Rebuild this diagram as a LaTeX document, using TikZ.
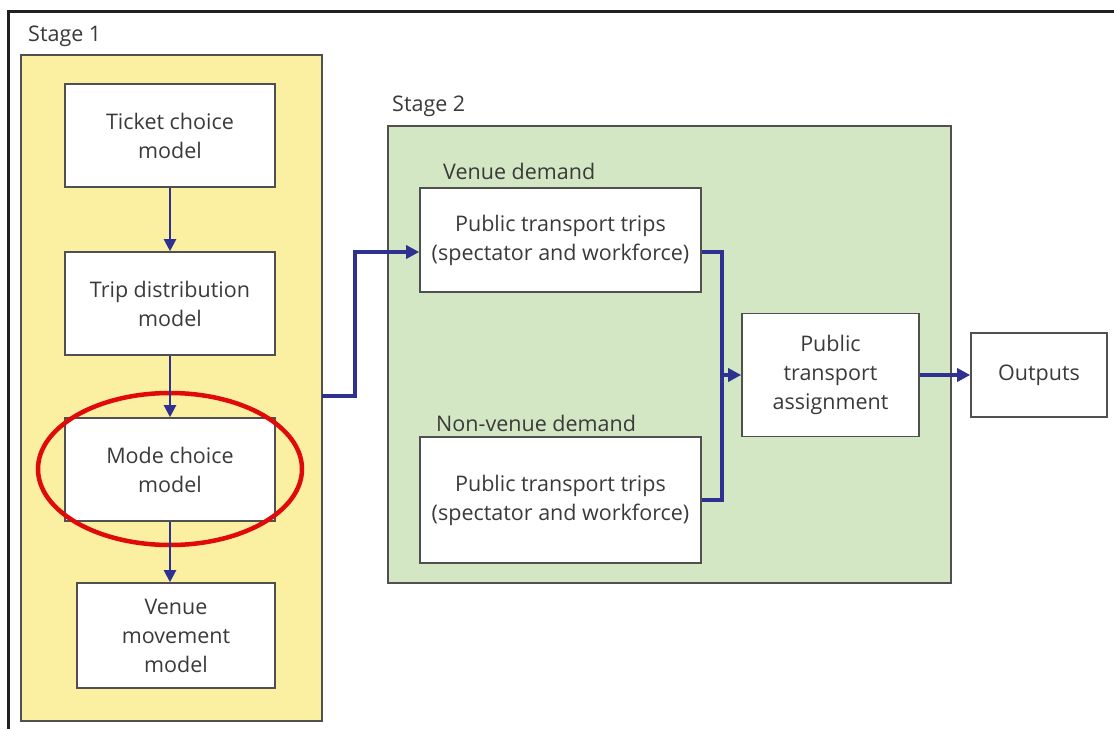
\documentclass[tikz,border=0pt]{standalone}
\usepackage{fontspec}
\setmainfont{Open Sans}
\usetikzlibrary{arrows.meta,shapes.geometric}
\definecolor{frame}{HTML}{231F20}
\definecolor{yellowbg}{HTML}{FBF0A2}
\definecolor{greenbg}{HTML}{D3E7C5}
\definecolor{boxline}{HTML}{505050}
\definecolor{arrowblue}{HTML}{2E3192}
\definecolor{txt}{HTML}{3A3A3A}
\definecolor{ringred}{HTML}{E10A0A}
\begin{document}
\begin{tikzpicture}[x=1pt,y=-1pt,
  every node/.style={font=\fontsize{21.5}{29}\selectfont, text=txt},
  modelbox/.style={draw=boxline, line width=1.6pt, fill=white, align=center, inner sep=0pt},
  stagebox/.style={draw=boxline, line width=1.6pt, inner sep=0pt},
  lbl/.style={anchor=west, inner sep=0pt},
  flow/.style={draw=arrowblue, line width=3.2pt, -{Triangle[length=13pt,width=13pt]}},
  vflow/.style={draw=arrowblue, line width=2.2pt, -{Triangle[length=12pt,width=12pt]}},
  link/.style={draw=arrowblue, line width=3.2pt}]
\useasboundingbox (0,0) rectangle (1114,729);
\fill[white] (0,0) rectangle (1114,729);
% outer frame
\draw[frame, line width=3pt] (1114,11) -- (8,11) -- (8,729);
% stage containers
\node[stagebox, fill=yellowbg, minimum width=301pt, minimum height=666pt] (stage1) at (171.5,388) {};
\node[stagebox, fill=greenbg, minimum width=563pt, minimum height=457pt] (stage2) at (669.5,354.5) {};
\node[lbl] (s1lbl) at (28,36) {Stage 1};
\node[lbl] (s2lbl) at (392,106) {Stage 2};
\node[lbl] (vdlbl) at (443,171) {Venue demand};
\node[lbl] (nvlbl) at (436,423) {Non-venue demand};
% stage 1 boxes
\node[modelbox, minimum width=210pt, minimum height=103pt] (ticket) at (170,135.5) {Ticket choice\\model};
\node[modelbox, minimum width=210pt, minimum height=103pt] (trip) at (170,303.5) {Trip distribution\\model};
\node[modelbox, minimum width=210pt, minimum height=103pt] (mode) at (170,469.5) {Mode choice\\model};
\node[modelbox, minimum width=198pt, minimum height=105pt] (venue) at (176,635.5) {Venue\\movement\\model};
% stage 2 boxes
\node[modelbox, minimum width=281pt, minimum height=104pt] (pt1) at (560.5,240) {Public transport trips\\(spectator and workforce)};
\node[modelbox, minimum width=281pt, minimum height=126pt] (pt2) at (560.5,500) {Public transport trips\\(spectator and workforce)};
\node[modelbox, minimum width=177pt, minimum height=123pt] (pta) at (830.5,375) {Public\\transport\\assignment};
\node[modelbox, minimum width=136pt, minimum height=84pt] (out) at (1039,375) {Outputs};
% red ring
\node[draw=ringred, line width=4.5pt, ellipse, minimum width=264pt, minimum height=152pt, inner sep=0pt] (ring) at (170,469) {};
% stage 1 arrows
\draw[vflow] (ticket.south) -- (trip.north);
\draw[vflow] (trip.south) -- (mode.north);
\draw[vflow] (mode.south) -- (venue.north -| mode.south);
% stage 1 -> stage 2
\coordinate (s1out) at (322,396);
\coordinate (pt1in) at ([yshift=-12pt]pt1.west);
\coordinate (pt1out) at ([yshift=-12pt]pt1.east);
\draw[flow] (s1out) -- (355,396) |- (pt1in);
% merge
\coordinate (merge) at (722,375);
\draw[link] (pt1out) -- (722,252) -- (722,500) -- (pt2.east);
\draw[flow] (merge) -- (pta.west);
\draw[flow] (pta.east) -- (out.west);
\end{tikzpicture}
\end{document}
